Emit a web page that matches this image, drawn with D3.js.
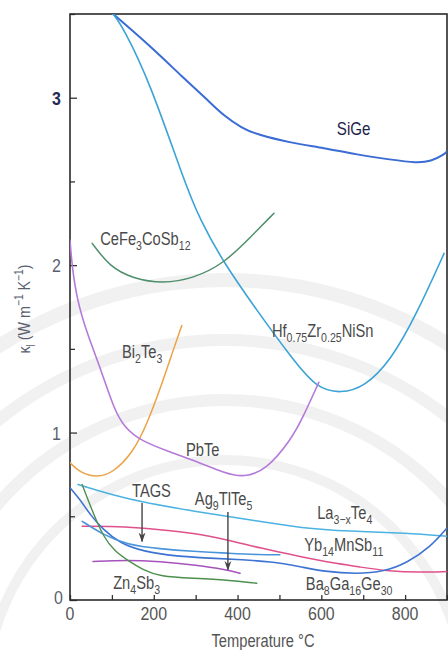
<!DOCTYPE html>
<html>
<head>
<meta charset="utf-8">
<script src="https://cdn.jsdelivr.net/npm/d3@7/dist/d3.min.js"></script>
<style>
  html, body { margin: 0; padding: 0; background: #fff; }
  svg { display: block; }
  text { font-family: "Liberation Sans", Arial, sans-serif; }
</style>
</head>
<body>
<svg id="chart" width="448" height="650"></svg>
<script>
// Lattice thermal conductivity (W m^-1 K^-1) versus temperature (°C)
const SiGe = [[103,3.50],[191,3.31],[270,3.12],[327,2.99],[368,2.89],[410,2.82],[446,2.78],[528,2.73],[606,2.70],[685,2.66],[766,2.63],[828,2.61],[862,2.62],[893,2.66],[900,2.68]];
const HfZrNiSn = [[103,3.50],[127,3.42],[191,3.09],[270,2.52],[310,2.27],[368,2.01],[446,1.73],[528,1.45],[590,1.26],[647,1.235],[702,1.27],[766,1.43],[828,1.71],[893,2.07]];
const CeFe3CoSb12 = [[53,2.13],[95,1.99],[150,1.92],[222,1.89],[294,1.92],[368,2.01],[432,2.17],[487,2.31]];
const Bi2Te3 = [[0,0.82],[24,0.76],[64,0.73],[103,0.76],[150,0.88],[184,1.05],[222,1.31],[246,1.49],[267,1.64]];
const PbTe = [[0,2.15],[5,1.99],[17,1.79],[41,1.59],[72,1.39],[105,1.14],[130,1.03],[170,0.95],[232,0.89],[310,0.82],[368,0.76],[415,0.73],[470,0.78],[528,0.96],[554,1.08],[594,1.30]];
const La3xTe4 = [[19,0.69],[136,0.60],[294,0.53],[454,0.47],[549,0.43],[668,0.41],[804,0.40],[900,0.38]];
const Yb14MnSb11 = [[29,0.44],[136,0.44],[215,0.42],[294,0.40],[375,0.36],[454,0.31],[549,0.26],[628,0.22],[685,0.20],[764,0.17],[835,0.165],[900,0.17]];
const Ba8Ga16Ge30 = [[0,0.67],[24,0.60],[48,0.51],[79,0.42],[119,0.34],[174,0.29],[255,0.26],[334,0.25],[413,0.24],[477,0.23],[549,0.20],[606,0.17],[685,0.155],[750,0.17],[804,0.22],[862,0.32],[900,0.43]];
const TAGS = [[29,0.47],[79,0.39],[136,0.33],[215,0.305],[294,0.29],[375,0.28],[454,0.27],[501,0.27]];
const Ag9TlTe5 = [[55,0.23],[136,0.24],[215,0.23],[294,0.21],[375,0.18],[406,0.16]];
const Zn4Sb3 = [[29,0.69],[55,0.52],[79,0.38],[107,0.29],[136,0.24],[174,0.18],[215,0.14],[294,0.13],[375,0.12],[446,0.10]];

const xTicks = [0, 200, 400, 600, 800];
const yTicks = [0, 1, 2, 3];

const svg = d3.select("#chart");
const plot = { left: 70, right: 447, top: 14, bottom: 600 };

const x = d3.scaleLinear().domain([0, 900]).range([plot.left, plot.right]);
const y = d3.scaleLinear().domain([0, 3.5]).range([plot.bottom, plot.top]);

// faint emblem arcs in the background
const bg = svg.append("g").attr("fill", "none").attr("stroke", "#f1f1f1");
[[420, 14], [360, 12], [300, 12], [240, 10]].forEach(([r, w]) => {
  bg.append("path")
    .attr("d", d3.arc()({ innerRadius: r, outerRadius: r, startAngle: -1.5, endAngle: 1.5 }))
    .attr("transform", "translate(225,700)")
    .attr("stroke-width", w);
});

svg.append("defs").append("clipPath").attr("id", "plotClip")
  .append("rect").attr("x", plot.left).attr("y", plot.top)
  .attr("width", plot.right - plot.left).attr("height", plot.bottom - plot.top);

svg.append("defs").append("marker").attr("id", "arrow")
  .attr("viewBox", "0 0 10 10").attr("refX", 9).attr("refY", 5)
  .attr("markerWidth", 7).attr("markerHeight", 7).attr("orient", "auto")
  .append("path").attr("d", "M0,1.5 L10,5 L0,8.5 L3,5 Z").attr("fill", "#444");

// axes: inward ticks
const xAxis = d3.axisBottom(x).tickValues(d3.range(0, 901, 100)).tickSize(-5).tickFormat("");
const yAxis = d3.axisLeft(y).tickValues(d3.range(0, 3.51, 0.5)).tickSize(-5).tickFormat("");

const gx = svg.append("g").attr("transform", `translate(0,${plot.bottom})`).call(xAxis);
const gy = svg.append("g").attr("transform", `translate(${plot.left},0)`).call(yAxis);
[gx, gy].forEach(g => {
  g.select(".domain").remove();
  g.selectAll(".tick line").attr("stroke", "#333").attr("stroke-width", 1.3);
});
gy.selectAll(".tick").filter(d => d % 1 === 0).select("line").attr("x2", 7);

// frame
svg.append("rect")
  .attr("x", plot.left).attr("y", plot.top)
  .attr("width", plot.right - plot.left).attr("height", plot.bottom - plot.top)
  .attr("fill", "none").attr("stroke", "#2a2a2a").attr("stroke-width", 1.6);

// condensed text: horizontal squeeze around the anchor point
const SQ = 0.84;
function narrowText(px, py, anchor) {
  return svg.append("text")
    .attr("transform", `translate(${px},${py}) scale(${SQ},1)`)
    .attr("text-anchor", anchor || "start");
}

// tick labels
xTicks.forEach(d => {
  narrowText(x(d), plot.bottom + 20, "middle")
    .attr("font-size", 19).attr("fill", "#555").text(d);
});
yTicks.forEach(d => {
  narrowText(d === 0 ? plot.left - 7 : plot.left - 9, y(d) + (d === 0 ? 4 : 7), "end")
    .attr("font-size", 19)
    .attr("fill", d === 3 ? "#1f2a55" : "#5a5f70")
    .attr("font-weight", d === 3 ? "bold" : "normal")
    .text(d);
});

// rich text helper: parts are [text, "sub" | "sup" | null]
function rich(sel, parts, size) {
  let shift = 0;
  parts.forEach(([t, kind]) => {
    const target = kind === "sub" ? size * 0.27 : kind === "sup" ? -size * 0.4 : 0;
    sel.append("tspan")
      .attr("dy", target - shift)
      .attr("font-size", kind ? size * 0.72 : size)
      .text(t);
    shift = target;
  });
}

// axis titles
const yTitle = svg.append("text")
  .attr("transform", `translate(30,${(plot.top + plot.bottom) / 2 + 2}) rotate(-90) scale(${SQ},1)`)
  .attr("text-anchor", "middle").attr("fill", "#5a5f70");
rich(yTitle, [["κ", null], ["l", "sub"], [" (W m", null], ["−1", "sup"], [" K", null], ["−1", "sup"], [")", null]], 17);

narrowText(263, 647, "middle")
  .attr("font-size", 17.5).attr("fill", "#555")
  .text("Temperature °C");

// curves (B-spline through the read-off points for a smooth trace)
const line = d3.line().x(d => x(d[0])).y(d => y(d[1])).curve(d3.curveBasis);
const series = [
  { data: SiGe, color: "#3a6cd4", width: 2 },
  { data: HfZrNiSn, color: "#3ca3d6", width: 1.6 },
  { data: CeFe3CoSb12, color: "#4f8f6c", width: 1.5 },
  { data: Bi2Te3, color: "#eca247", width: 1.5 },
  { data: PbTe, color: "#b57ad9", width: 1.6 },
  { data: La3xTe4, color: "#4cb2e2", width: 1.5 },
  { data: Yb14MnSb11, color: "#e0508c", width: 1.5 },
  { data: Ba8Ga16Ge30, color: "#3d74d2", width: 1.6 },
  { data: TAGS, color: "#4a94dc", width: 1.6 },
  { data: Ag9TlTe5, color: "#a652bd", width: 1.5 },
  { data: Zn4Sb3, color: "#4e8f4e", width: 1.4 }
];
svg.append("g").attr("clip-path", "url(#plotClip)")
  .selectAll("path").data(series).join("path")
  .attr("d", d => line(d.data))
  .attr("fill", "none")
  .attr("stroke", d => d.color)
  .attr("stroke-width", d => d.width)
  .attr("stroke-linecap", "round");

// curve labels, placed in data units
const labels = [
  { at: [637, 2.78], parts: [["SiGe", null]], color: "#1c2248", size: 18 },
  { at: [72, 2.12], parts: [["CeFe", null], ["3", "sub"], ["CoSb", null], ["12", "sub"]], color: "#4a4a4a", size: 17.5 },
  { at: [482, 1.57], parts: [["Hf", null], ["0.75", "sub"], ["Zr", null], ["0.25", "sub"], ["NiSn", null]], color: "#4a4a4a", size: 17.5 },
  { at: [124, 1.445], parts: [["Bi", null], ["2", "sub"], ["Te", null], ["3", "sub"]], color: "#4a4a4a", size: 17.5 },
  { at: [277, 0.86], parts: [["PbTe", null]], color: "#4a4a4a", size: 17.5 },
  { at: [148, 0.615], parts: [["TAGS", null]], color: "#4a4a4a", size: 17.5 },
  { at: [298, 0.567], parts: [["Ag", null], ["9", "sub"], ["TlTe", null], ["5", "sub"]], color: "#4a4a4a", size: 17.5 },
  { at: [590, 0.484], parts: [["La", null], ["3−x", "sub"], ["Te", null], ["4", "sub"]], color: "#4a4a4a", size: 17.5 },
  { at: [559, 0.293], parts: [["Yb", null], ["14", "sub"], ["MnSb", null], ["11", "sub"]], color: "#4a4a4a", size: 17.5 },
  { at: [563, 0.06], parts: [["Ba", null], ["8", "sub"], ["Ga", null], ["16", "sub"], ["Ge", null], ["30", "sub"]], color: "#4a4a4a", size: 17.5 },
  { at: [103, 0.066], parts: [["Zn", null], ["4", "sub"], ["Sb", null], ["3", "sub"]], color: "#4a4a4a", size: 17.5 }
];
labels.forEach(l => {
  const t = narrowText(x(l.at[0]), y(l.at[1])).attr("fill", l.color);
  rich(t, l.parts, l.size);
});

// pointer arrows
const arrows = [
  { from: [172, 0.58], to: [172, 0.35] },
  { from: [377, 0.525], to: [377, 0.18] }
];
svg.append("g").selectAll("line").data(arrows).join("line")
  .attr("x1", d => x(d.from[0])).attr("y1", d => y(d.from[1]))
  .attr("x2", d => x(d.to[0])).attr("y2", d => y(d.to[1]))
  .attr("stroke", "#444").attr("stroke-width", 1.4)
  .attr("marker-end", "url(#arrow)");
</script>
</body>
</html>
